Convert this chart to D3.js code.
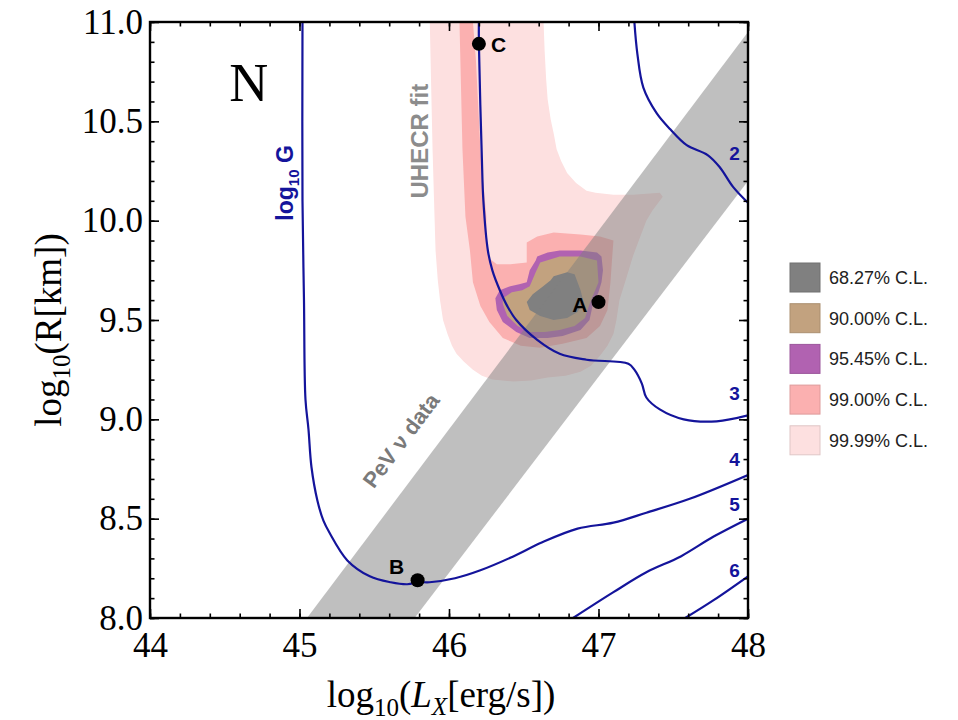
<!DOCTYPE html>
<html>
<head>
<meta charset="utf-8">
<style>
    body { margin: 0; background: #fff; }
    .tick text { font-family: "Liberation Serif", serif; font-size: 35px; fill: #000; }
    .tick line { stroke: #000; stroke-width: 1.6; }
    .frame { fill: none; stroke: #000; stroke-width: 2.4; }
    .contour { fill: none; stroke: #14149b; stroke-width: 2.2; }
    .sans { font-family: "Liberation Sans", Arial, sans-serif; font-weight: bold; }
</style>
</head>
<body>
<svg id="container" width="958" height="720"></svg>
<script src="https://cdn.jsdelivr.net/npm/d3@7/dist/d3.min.js"></script>
<script>
// axis ticks
const xTicks = [44, 45, 46, 47, 48]
const yTicks = [8.0, 8.5, 9.0, 9.5, 10.0, 10.5, 11.0]

// grey band: PeV neutrino data
const pevBand = [[45.05, 8.0], [48.0, 10.95], [48.0, 10.20], [45.77, 8.0]]

// confidence regions (log10 Lx, log10 R)
const cl9999 = [[45.87, 11.05], [45.88, 10.70], [45.89, 10.36], [45.90, 10.10], [45.91, 9.85], [45.925, 9.70],
    [45.94, 9.60], [45.96, 9.50], [45.99, 9.43], [46.02, 9.37], [46.05, 9.33], [46.10, 9.29],
    [46.16, 9.25], [46.22, 9.22], [46.29, 9.20], [46.43, 9.19], [46.55, 9.195], [46.66, 9.21],
    [46.78, 9.22], [46.88, 9.24], [46.95, 9.27], [47.01, 9.32], [47.06, 9.37], [47.10, 9.43],
    [47.12, 9.50], [47.14, 9.60], [47.19, 9.72], [47.23, 9.82], [47.28, 9.92], [47.32, 10.00],
    [47.36, 10.05], [47.41, 10.10], [47.43, 10.12], [47.41, 10.14], [47.23, 10.13], [47.10, 10.13],
    [46.98, 10.14], [46.92, 10.15], [46.85, 10.19], [46.79, 10.24], [46.75, 10.30], [46.72, 10.36],
    [46.70, 10.44], [46.68, 10.51], [46.66, 10.61], [46.65, 10.71], [46.64, 10.85], [46.63, 11.05]]
const cl99 = [[46.07, 11.0], [46.09, 10.36], [46.11, 10.02], [46.14, 9.85], [46.15, 9.77], [46.16, 9.69],
    [46.21, 9.57], [46.27, 9.49], [46.36, 9.41], [46.48, 9.37], [46.61, 9.36], [46.76, 9.38],
    [46.92, 9.41], [47.01, 9.47], [47.06, 9.55], [47.08, 9.69], [47.09, 9.80], [47.10, 9.90],
    [47.01, 9.92], [46.88, 9.93], [46.70, 9.94], [46.59, 9.92], [46.52, 9.89], [46.52, 9.79],
    [46.41, 9.78], [46.32, 9.78], [46.27, 9.81], [46.25, 9.90], [46.25, 10.02], [46.21, 10.36],
    [46.18, 10.81], [46.16, 11.0]]
const cl9545 = [[46.59, 9.82], [46.66, 9.84], [46.74, 9.85], [46.88, 9.85], [46.99, 9.84], [47.02, 9.82],
    [47.03, 9.75], [47.02, 9.69], [47.00, 9.64], [46.96, 9.57], [46.94, 9.50], [46.88, 9.45],
    [46.76, 9.42], [46.66, 9.41], [46.54, 9.41], [46.45, 9.44], [46.36, 9.49], [46.32, 9.55],
    [46.31, 9.61], [46.34, 9.65], [46.41, 9.67], [46.47, 9.68], [46.52, 9.69], [46.54, 9.75], [46.58, 9.80]]
const cl90 = [[46.61, 9.79], [46.74, 9.82], [46.88, 9.82], [46.99, 9.80], [47.00, 9.69], [46.94, 9.58],
    [46.91, 9.51], [46.84, 9.47], [46.74, 9.45], [46.64, 9.44], [46.54, 9.44], [46.46, 9.47],
    [46.39, 9.52], [46.36, 9.58], [46.36, 9.61], [46.42, 9.64], [46.49, 9.65], [46.54, 9.67], [46.58, 9.74]]
const cl6827 = [[46.70, 9.72], [46.79, 9.74], [46.84, 9.73], [46.88, 9.65], [46.90, 9.59], [46.86, 9.54],
    [46.79, 9.51], [46.70, 9.50], [46.61, 9.52], [46.54, 9.55], [46.52, 9.59], [46.56, 9.63],
    [46.63, 9.67], [46.68, 9.70]]

const clNames = ["68.27% C.L.", "90.00% C.L.", "95.45% C.L.", "99.00% C.L.", "99.99% C.L."]
const clColors = ["#808080", "#c2a27f", "#b162b1", "#fbb0b0", "#fde0e0"]

// log10 G contours
const g2 = [[47.24, 11.0], [47.26, 10.84], [47.30, 10.67], [47.39, 10.54], [47.48, 10.46], [47.59, 10.38],
    [47.73, 10.33], [47.81, 10.27], [47.90, 10.17], [48.0, 10.09]]
const g3 = [[46.20, 11.0], [46.20, 10.89], [46.22, 10.31], [46.23, 10.10], [46.26, 9.85], [46.29, 9.75],
    [46.34, 9.65], [46.39, 9.57], [46.45, 9.50], [46.59, 9.40], [46.74, 9.33], [46.92, 9.30],
    [47.20, 9.28], [47.24, 9.25], [47.29, 9.18], [47.32, 9.11], [47.41, 9.05], [47.57, 9.00],
    [47.79, 8.99], [48.0, 9.02]]
const g4 = [[45.02, 11.0], [45.02, 10.10], [45.03, 9.60], [45.04, 9.10], [45.06, 8.95], [45.08, 8.76],
    [45.12, 8.59], [45.16, 8.49], [45.20, 8.43], [45.32, 8.29], [45.47, 8.21], [45.61, 8.18],
    [45.72, 8.17], [45.80, 8.18], [45.87, 8.18], [46.04, 8.20], [46.21, 8.24], [46.43, 8.31],
    [46.62, 8.38], [46.86, 8.45], [47.10, 8.48], [47.32, 8.53], [47.61, 8.60], [48.0, 8.72]]
const g5 = [[46.83, 8.0], [47.10, 8.13], [47.32, 8.23], [47.55, 8.31], [47.77, 8.41], [48.0, 8.50]]
const g6 = [[47.58, 8.0], [47.77, 8.09], [48.0, 8.21]]
const gLabels = ["2", "3", "4", "5", "6"]
const gLabelY = [10.34, 9.13, 8.80, 8.57, 8.24]

// benchmark points
const pointNames = ["A", "B", "C"]
const pointX = [47.0, 45.79, 46.2]
const pointY = [9.59, 8.19, 10.89]

const margin = { left: 150, top: 22 }
const W = 598, H = 596

let svg = d3.select("#container")
let body = svg.append("g").attr("transform", `translate(${margin.left},${margin.top})`)

let x = d3.scaleLinear().domain([44, 48]).range([0, W])
let y = d3.scaleLinear().domain([8, 11]).range([H, 0])

svg.append("defs").append("clipPath").attr("id", "clip")
    .append("rect").attr("width", W).attr("height", H)

let plot = body.append("g").attr("clip-path", "url(#clip)")

let area = d3.line().x(d => x(d[0])).y(d => y(d[1])).curve(d3.curveLinearClosed)

// confidence regions, outermost first
const regions = [cl9999, cl99, cl9545, cl90, cl6827]
plot.selectAll(".cl").data(regions).join("path")
    .attr("class", "cl").attr("d", area)
    .attr("fill", (d, i) => clColors[4 - i])

// PeV band on top, half transparent
plot.append("path").datum(pevBand).attr("d", area)
    .attr("fill", "#808080").attr("fill-opacity", 0.5)

// contours
let contourLine = d3.line().x(d => x(d[0])).y(d => y(d[1])).curve(d3.curveCatmullRom.alpha(0.5))
plot.selectAll(".contour").data([g2, g3, g4, g5, g6]).join("path")
    .attr("class", "contour").attr("d", contourLine)

body.selectAll(".glabel").data(gLabels).join("text")
    .attr("class", "glabel sans")
    .attr("x", x(47.91)).attr("y", (d, i) => y(gLabelY[i]))
    .attr("dy", "0.35em").attr("text-anchor", "middle")
    .attr("font-size", 19).attr("fill", "#14149b")
    .text(d => d)

// points
body.selectAll(".pt").data(pointNames).join("circle")
    .attr("class", "pt")
    .attr("cx", (d, i) => x(pointX[i])).attr("cy", (d, i) => y(pointY[i]))
    .attr("r", 7).attr("fill", "#000")

const labelOff = [[-11, 10, "end"], [-21, -6, "middle"], [12, 8, "start"]]
body.selectAll(".ptlabel").data(pointNames).join("text")
    .attr("class", "ptlabel sans")
    .attr("x", (d, i) => x(pointX[i]) + labelOff[i][0])
    .attr("y", (d, i) => y(pointY[i]) + labelOff[i][1])
    .attr("text-anchor", (d, i) => labelOff[i][2])
    .attr("font-size", 21).attr("fill", "#000")
    .text(d => d)

// text annotations
body.append("text").attr("x", x(44.66)).attr("y", y(10.6))
    .attr("text-anchor", "middle")
    .style("font-family", "Liberation Serif, serif").style("font-size", "54px")
    .text("N")

let gl = body.append("text").attr("class", "sans")
    .attr("transform", `translate(${x(44.955)},${y(10.19)}) rotate(-90)`)
    .attr("fill", "#14149b").attr("font-size", 23).attr("text-anchor", "middle")
gl.append("tspan").text("log")
gl.append("tspan").attr("font-size", 15).attr("dy", 6).text("10")
gl.append("tspan").attr("dy", -6).text(" G")

body.append("text").attr("class", "sans")
    .attr("transform", `translate(${x(45.86)},${y(10.40)}) rotate(-90)`)
    .attr("fill", "#8c8c8c").attr("font-size", 24).attr("text-anchor", "middle")
    .text("UHECR fit")

body.append("text").attr("class", "sans")
    .attr("transform", `translate(${x(45.72)},${y(8.87)}) rotate(-53)`)
    .attr("fill", "#7a7a7a").attr("font-size", 22).attr("text-anchor", "middle")
    .text("PeV \u03bd data")

// axes: major + minor ticks on all four sides, pointing inward
function noDomain(g) { g.select(".domain").remove() }
const xMinor = d3.range(44, 48.01, 0.2)
const yMinor = d3.range(8, 11.01, 0.1)
body.append("g").attr("transform", `translate(0,${H})`)
    .call(d3.axisBottom(x).tickValues(xTicks).tickSize(-9).tickPadding(14).tickFormat(d3.format("d"))).call(noDomain)
body.append("g").attr("transform", `translate(0,${H})`)
    .call(d3.axisBottom(x).tickValues(xMinor).tickSize(-4.5).tickFormat("")).call(noDomain)
body.append("g")
    .call(d3.axisTop(x).tickValues(xTicks).tickSize(-9).tickFormat("")).call(noDomain)
body.append("g")
    .call(d3.axisTop(x).tickValues(xMinor).tickSize(-4.5).tickFormat("")).call(noDomain)
body.append("g")
    .call(d3.axisLeft(y).tickValues(yTicks).tickSize(-9).tickPadding(7).tickFormat(d3.format(".1f"))).call(noDomain)
body.append("g")
    .call(d3.axisLeft(y).tickValues(yMinor).tickSize(-4.5).tickFormat("")).call(noDomain)
body.append("g").attr("transform", `translate(${W},0)`)
    .call(d3.axisRight(y).tickValues(yTicks).tickSize(-9).tickFormat("")).call(noDomain)
body.append("g").attr("transform", `translate(${W},0)`)
    .call(d3.axisRight(y).tickValues(yMinor).tickSize(-4.5).tickFormat("")).call(noDomain)

body.append("rect").attr("class", "frame").attr("width", W).attr("height", H)

// axis titles
let xl = svg.append("text").attr("x", 441).attr("y", 707).attr("text-anchor", "middle")
    .style("font-family", "Liberation Serif, serif").style("font-size", "37px")
xl.append("tspan").text("log")
xl.append("tspan").attr("font-size", 25).attr("dy", 9).text("10")
xl.append("tspan").attr("dy", -9).text("(")
xl.append("tspan").attr("font-style", "italic").text("L")
xl.append("tspan").attr("font-style", "italic").attr("font-size", 25).attr("dy", 8).text("X")
xl.append("tspan").attr("dy", -8).text("[erg/s])")

let yl = svg.append("text").attr("transform", "translate(61,330) rotate(-90)").attr("text-anchor", "middle")
    .style("font-family", "Liberation Serif, serif").style("font-size", "37px")
yl.append("tspan").text("log")
yl.append("tspan").attr("font-size", 25).attr("dy", 9).text("10")
yl.append("tspan").attr("dy", -9).text("(R[km])")

// legend
let legend = svg.append("g").attr("transform", "translate(790,263)")
let items = legend.selectAll("g").data(clNames).join("g")
    .attr("transform", (d, i) => `translate(0,${i * 40.7})`)
items.append("rect").attr("width", 30).attr("height", 29)
    .attr("fill", (d, i) => clColors[i])
    .attr("stroke", (d, i) => d3.color(clColors[i]).darker(0.35)).attr("stroke-width", 1)
items.append("text").attr("x", 39).attr("y", 21)
    .style("font-family", "Liberation Sans, Arial, sans-serif").style("font-size", "18px")
    .attr("fill", "#222").text(d => d)
</script>
</body>
</html>
